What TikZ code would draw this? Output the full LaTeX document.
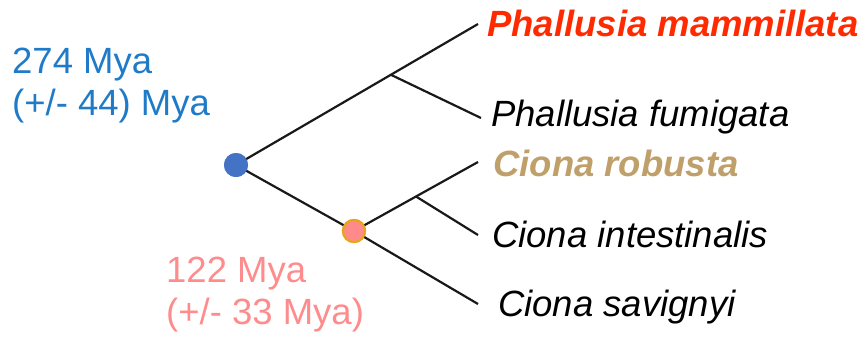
\documentclass[tikz,border=0pt]{standalone}
\usepackage{fontspec}
\setmainfont{Liberation Sans}
\definecolor{rootblue}{HTML}{4472C4}
\definecolor{agetxt}{HTML}{1F7AC8}
\definecolor{pinkfill}{HTML}{FF8A8C}
\definecolor{pinktxt}{HTML}{FF8C8C}
\definecolor{ringorange}{HTML}{E8A41C}
\definecolor{hired}{HTML}{FF2A00}
\definecolor{tan}{HTML}{BFA06A}
\begin{document}
\begin{tikzpicture}[x=1pt,y=-1pt,
  branch/.style={line width=2.2pt,draw=black!90},
  species/.style={anchor=base west,inner sep=0pt,font=\fontsize{36.5}{42}\selectfont\itshape},
  boldsp/.style={species,font=\fontsize{36.5}{42}\selectfont\bfseries\itshape},
  agelabel/.style={anchor=base west,inner sep=0pt,align=left,font=\fontsize{36.5}{42}\selectfont},
  rootdot/.style={circle,fill=rootblue,minimum size=24pt,inner sep=0pt},
  splitdot/.style={circle,fill=pinkfill,draw=ringorange,line width=2.2pt,minimum size=22pt,inner sep=0pt}]
\useasboundingbox (0,0) rectangle (868,341);
% tips
\coordinate (tPm) at (478,24);
\coordinate (tPf) at (481,118);
\coordinate (tCr) at (478,162);
\coordinate (tCi) at (478,235);
\coordinate (tCs) at (478,304);
% inner nodes
\node[rootdot] (root) at (236,165) {};
\node[splitdot] (cion) at (354,231) {};
% branches
\draw[branch] (root.center) -- coordinate[pos=0.64] (phal) (tPm);
\draw[branch] (phal) -- (tPf);
\draw[branch] (cion.center) -- coordinate[pos=0.5] (ci2) (tCr);
\draw[branch] (ci2) -- (tCi);
\draw[branch] (cion.center) -- (tCs);
\draw[branch] (root.center) -- (cion.center);
% redraw dots over line ends
\node[rootdot] at (root) {};
\node[splitdot] at (cion) {};
% species names
\node[boldsp,text=hired] (nPm) at (487,36) {Phallusia mammillata};
\node[species] (nPf) at (491,126) {Phallusia fumigata};
\node[boldsp,text=tan] (nCr) at (493,176) {Ciona robusta};
\node[species] (nCi) at (492,247) {Ciona intestinalis};
\node[species] (nCs) at (498,316) {Ciona savignyi};
% divergence times (anchored on the last line's baseline)
\node[agelabel,text=agetxt] (aRoot) at (12,115) {274 Mya\\(+/- 44) Mya};
\node[agelabel,text=pinktxt] (aCion) at (166,324) {122 Mya\\(+/- 33 Mya)};
\end{tikzpicture}
\end{document}
